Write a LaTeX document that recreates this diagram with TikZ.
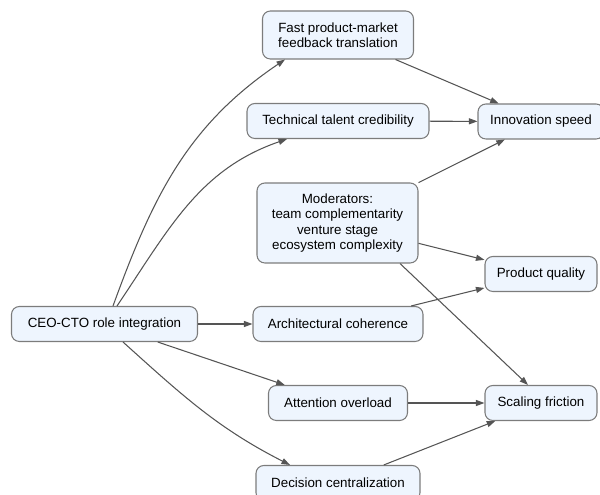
\documentclass[tikz,border=0pt]{standalone}
\usepackage{fontspec}
\setmainfont{Liberation Sans}
\usepackage{tikz}
\usetikzlibrary{arrows.meta}
\definecolor{boxfill}{HTML}{EEF5FE}
\definecolor{boxline}{HTML}{7C7C7C}
\definecolor{edgeline}{HTML}{555555}

\begin{document}
\begin{tikzpicture}[
	box/.style={draw=boxline, fill=boxfill, line width=0.6pt, rounded corners=4.5pt, align=center, inner sep=0pt, font=\fontsize{7.6}{8.6}\selectfont},
	edge/.style={draw=edgeline, line width=0.6pt, -{Triangle[length=1.7mm,width=1.2mm]}}
	]
			%%%%% START %%%%%
			
			\useasboundingbox (0, 0) rectangle (12, 9.9);
			
			\node[box, minimum width=3.72cm, minimum height=0.7cm] (ceo) at (2.09, 3.42) {CEO-CTO role integration};
			
			\node[box, minimum width=3.02cm, minimum height=0.96cm] (fast) at (6.76, 9.2) {Fast product-market\\feedback translation};
			\node[box, minimum width=3.64cm, minimum height=0.7cm] (tech) at (6.76, 7.48) {Technical talent credibility};
			\node[box, minimum width=3.22cm, minimum height=1.6cm] (mod) at (6.75, 5.44) {Moderators:\\team complementarity\\venture stage\\ecosystem complexity};
			\node[box, minimum width=3.4cm, minimum height=0.7cm] (arch) at (6.76, 3.42) {Architectural coherence};
			\node[box, minimum width=2.78cm, minimum height=0.7cm] (att) at (6.76, 1.84) {Attention overload};
			\node[box, minimum width=3.28cm, minimum height=0.7cm] (dec) at (6.76, 0.24) {Decision centralization};
			
			\node[box, minimum width=2.52cm, minimum height=0.7cm] (innov) at (10.82, 7.47) {Innovation speed};
			\node[box, minimum width=2.24cm, minimum height=0.7cm] (pq) at (10.82, 4.42) {Product quality};
			\node[box, minimum width=2.24cm, minimum height=0.7cm] (sf) at (10.82, 1.84) {Scaling friction};
			
			\draw[edge] ([xshift=0.17cm]ceo.north) to[out=70, in=214] ([xshift=-1.06cm]fast.south);
			\draw[edge] ([xshift=0.25cm]ceo.north) to[out=56, in=199] ([xshift=-1.02cm]tech.south);
			\draw[edge] (ceo) -- (arch);
			\draw[edge] (ceo) -- (att);
			\draw[edge] ([xshift=0.37cm]ceo.south) to[out=-42, in=153] ([xshift=-0.96cm]dec.north);
			
			\draw[edge] (fast) -- (innov);
			\draw[edge] (tech) -- (innov);
			\draw[edge] (mod) -- (innov);
			\draw[edge] (mod) -- (pq);
			\draw[edge] ([xshift=1.25cm]mod.south) -- ([xshift=-0.26cm]sf.north);
			\draw[edge] (arch) -- (pq);
			\draw[edge] (att) -- (sf);
			\draw[edge] (dec) -- (sf);
			
			%%%%% END %%%%%
		\end{tikzpicture}
\end{document}
